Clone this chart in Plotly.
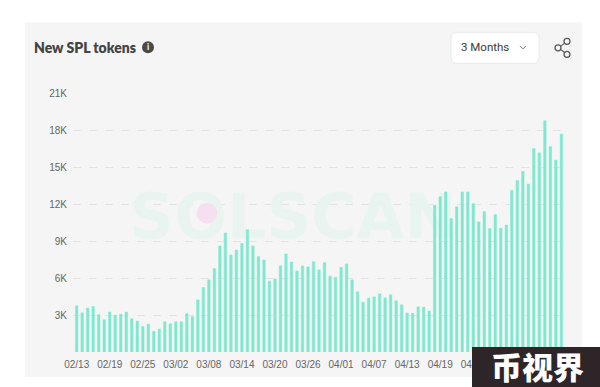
import pandas as pd
import plotly.graph_objects as go

# ---- data ----
dates = pd.date_range("2024-02-13", periods=89).strftime("%m/%d").tolist()
new_tokens = [
    3750, 3180, 3560, 3690, 3020, 2620, 3240, 3000, 3070, 3240,
    2700, 2510, 2080, 2260, 1670, 1860, 2450, 2290, 2450, 2450,
    3100, 2880, 4230, 5230, 5850, 6760, 8600, 9650, 7870, 8270,
    8810, 9920, 8600, 7730, 7460, 5740, 5930, 6980, 7950, 7300,
    6580, 6980, 6900, 7330, 6660, 7250, 6150, 6060, 6870, 7140,
    5850, 4880, 4040, 4370, 4470, 4720, 4390, 4640, 4150, 3830,
    3160, 3130, 3670, 3640, 3320, 11900, 12600, 12980, 10820, 11770,
    12980, 12980, 12030, 10550, 11390, 10010, 11140, 10040, 10300, 13100,
    13900, 14650, 13620, 16500, 16150, 18750, 16660, 15560, 17670,
]
x_ticks = ["02/13", "02/19", "02/25", "03/02", "03/08", "03/14", "03/20", "03/26",
           "04/01", "04/07", "04/13", "04/19", "04/25"]
y_ticks = [3000, 6000, 9000, 12000, 15000, 18000, 21000]
y_labels = ["3K", "6K", "9K", "12K", "15K", "18K", "21K"]
title_text = "New SPL tokens"
range_text = "3 Months"
watermark_text = "SOLSCAN"
stamp_text = "币视界"

W, H = 600, 387
L, R, T, B = 73, 568, 92.7, 352


def px(x):
    return (x - L) / (R - L)


def py(y):
    return (B - y) / (B - T)


def rrect(x0, y0, x1, y1, r):
    a, b, c, d = px(x0), px(x1), py(y0), py(y1)
    rx, ry = r / (R - L), r / (B - T)
    return (f"M{a+rx},{c} L{b-rx},{c} Q{b},{c} {b},{c-ry} L{b},{d+ry} Q{b},{d} {b-rx},{d} "
            f"L{a+rx},{d} Q{a},{d} {a},{d+ry} L{a},{c-ry} Q{a},{c} {a+rx},{c} Z")


def circle(cx, cy, r, **kw):
    return dict(type="circle", xref="paper", yref="paper", x0=px(cx - r), x1=px(cx + r),
                y0=py(cy + r), y1=py(cy - r), **kw)


def seg(x0, y0, x1, y1, color, width=1.2):
    return dict(type="line", xref="paper", yref="paper", x0=px(x0), x1=px(x1), y0=py(y0), y1=py(y1),
                line=dict(color=color, width=width))


fig = go.Figure()

# watermark lives on the base axes so the bars (overlay axes) cover it
fig.add_trace(go.Scatter(
    x=[px(293)], y=[0.5], mode="text", text=[watermark_text], textposition="middle center",
    textfont=dict(family="DejaVu Sans", size=62, weight=700, color="#e9f4f1"),
    hoverinfo="skip", showlegend=False, xaxis="x", yaxis="y"))
fig.add_trace(go.Scatter(
    x=[px(207)], y=[py(213)], mode="markers",
    marker=dict(size=21, color="#f6e0f0", line=dict(width=0)),
    hoverinfo="skip", showlegend=False, xaxis="x", yaxis="y"))

fig.add_trace(go.Bar(
    x=dates, y=new_tokens, width=0.46,
    marker=dict(color="#80e8d0", line=dict(width=1, color="rgba(128,232,208,0.45)")),
    showlegend=False, xaxis="x2", yaxis="y2"))

share = "#5a5a5a"
shapes = [
    dict(type="rect", xref="paper", yref="paper", layer="below", x0=px(25), x1=px(582),
         y0=py(377), y1=py(22), fillcolor="#f5f5f5", line=dict(width=0)),
    dict(type="path", xref="paper", yref="paper", path=rrect(451, 32, 539, 63, 6),
         fillcolor="#ffffff", line=dict(color="#e9e9e9", width=1)),
    seg(520, 45.5, 523, 48.5, "#777777", 1),
    seg(523, 48.5, 526, 45.5, "#777777", 1),
    circle(148, 47, 6, fillcolor="#4a4a4a", line=dict(width=0)),
    seg(560.5, 46, 565, 42.5, share),
    seg(560.5, 49, 565, 52.5, share),
    circle(567, 41, 3, line=dict(color=share, width=1.3)),
    circle(558, 47.5, 3, line=dict(color=share, width=1.3)),
    circle(567, 54, 3, line=dict(color=share, width=1.3)),
    dict(type="rect", xref="paper", yref="paper", layer="above", x0=px(472), x1=px(600),
         y0=py(387), y1=py(347), fillcolor="#2e2528", line=dict(width=0)),
]


def note(text, x, y, size, color, family, anchor="left", weight=None, pad=1):
    return dict(text=text, xref="paper", yref="paper", x=px(x), y=py(y), xanchor=anchor, yanchor="middle",
                showarrow=False, borderpad=pad, font=dict(family=family, size=size, color=color, weight=weight))


annotations = [
    note(title_text, 32, 47, 14, "#444444", "Lato", weight=800),
    note("i", 148, 47, 8.5, "#ffffff", "Lato", anchor="center", weight=700),
    note(range_text, 459, 47, 11.5, "#3a3a3a", "Roboto"),
    note(stamp_text, 537, 365.5, 31, "#ffffff", "Noto Sans CJK SC", anchor="center", weight=900, pad=0),
]

fig.update_layout(
    width=W, height=H, autosize=False,
    margin=dict(l=L, r=W - R, t=T, b=H - B, pad=0),
    paper_bgcolor="#ffffff", plot_bgcolor="rgba(0,0,0,0)",
    showlegend=False, shapes=shapes, annotations=annotations,
    xaxis=dict(range=[0, 1], domain=[0, 1], visible=False, fixedrange=True),
    yaxis=dict(range=[0, 1], visible=False, fixedrange=True),
    xaxis2=dict(type="category", overlaying="x", anchor="y2", side="bottom", range=[-0.67, 89.2],
                categoryorder="array", categoryarray=dates,
                tickmode="array", tickvals=x_ticks, ticktext=x_ticks, ticklabelstandoff=5,
                tickfont=dict(family="Liberation Sans", size=10, color="#666666"),
                showgrid=False, showline=False, ticks="", ticklen=0, tickangle=0, fixedrange=True),
    yaxis2=dict(overlaying="y", anchor="x2", side="left", range=[0, 21000],
                tickmode="array", tickvals=y_ticks, ticktext=y_labels, ticklabelstandoff=5,
                tickfont=dict(family="Liberation Sans", size=10, color="#666666"),
                showgrid=True, gridcolor="#e3e3e3", griddash="8px,8px", gridwidth=1,
                zeroline=False, showline=False, ticks="", fixedrange=True),
)

fig.write_html("out.html", config=dict(displayModeBar=False),
               post_script="document.body.style.margin='0';")
